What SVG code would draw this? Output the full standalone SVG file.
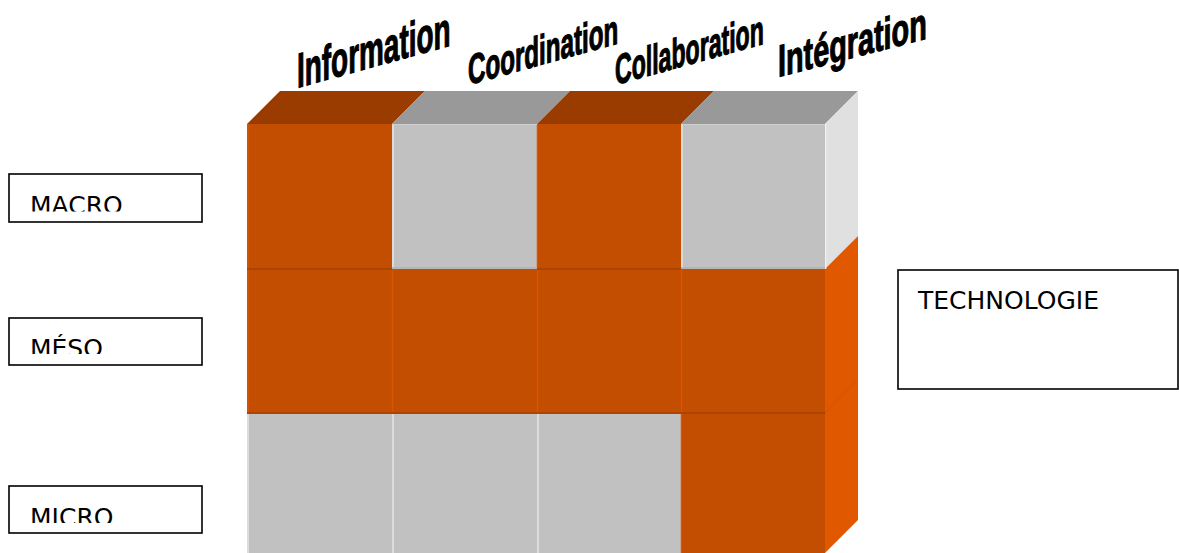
<svg xmlns="http://www.w3.org/2000/svg" width="1179" height="553" viewBox="0 0 1179 553">
<style>
.box{fill:#fff;stroke:#000;stroke-width:1.6}
.lbl{font-family:"DejaVu Sans","Verdana",sans-serif;font-size:25px;fill:#000}
.wa{font-family:"Liberation Sans",Arial,sans-serif;font-weight:bold;fill:#000;stroke:#000;stroke-width:1.2}
.of{fill:#C34D00}
.gf{fill:#C1C1C1}
.ot{fill:#9A3C00}
.gt{fill:#999999}
.os{fill:#E05800}
.gs{fill:#E0E0E0}
.lo{stroke:#D95600;stroke-width:1.5}
.ld{stroke:#AE4400;stroke-width:2}
.lg{stroke:#DCDCDC;stroke-width:2}
.lgd{stroke:#B0B0B0;stroke-width:1.5}
</style>
<defs>
<clipPath id="c1"><rect x="0" y="0" width="1179" height="211.5"/></clipPath>
<clipPath id="c2"><rect x="0" y="0" width="1179" height="354"/></clipPath>
<clipPath id="c3"><rect x="0" y="0" width="1179" height="523"/></clipPath>
</defs>
<rect width="1179" height="553" fill="#fff"/>

<g id="cube">
<!-- top faces -->
<polygon class="ot" points="247,124 280,91 425,91 392,124"/>
<polygon class="gt" points="392,124 425,91 570,91 537,124"/>
<polygon class="ot" points="537,124 570,91 714,91 681,124"/>
<polygon class="gt" points="681,124 714,91 858,91 825,124"/>
<!-- side faces -->
<polygon class="gs" points="825,124 858,91 858,236 825,269"/>
<polygon class="os" points="825,269 858,236 858,520 825,553"/>
<line x1="825" y1="413" x2="858" y2="380" stroke="#D35200" stroke-width="1"/>
<line x1="825.5" y1="124" x2="825.5" y2="269" stroke="#F0F0F0" stroke-width="1.5"/>
<!-- front faces row 1 -->
<rect class="of" x="247" y="124" width="145" height="145"/>
<rect class="gf" x="392" y="124" width="145" height="145"/>
<rect class="of" x="537" y="124" width="144" height="145"/>
<rect class="gf" x="681" y="124" width="144" height="145"/>
<!-- row 2 -->
<rect class="of" x="247" y="269" width="578" height="144"/>
<!-- row 3 -->
<rect class="gf" x="247" y="413" width="434" height="140"/>
<rect class="of" x="681" y="413" width="144" height="140"/>
<!-- edge lines -->
<line class="lo" x1="248" y1="124" x2="248" y2="413"/>
<line class="lg" x1="393" y1="124" x2="393" y2="268"/>
<line class="lg" x1="682" y1="124" x2="682" y2="268"/>
<line class="lo" x1="392.5" y1="270" x2="392.5" y2="412"/>
<line class="lo" x1="537.5" y1="124" x2="537.5" y2="412"/>
<line class="lo" x1="681.5" y1="270" x2="681.5" y2="553"/>
<line class="lg" x1="248" y1="414" x2="248" y2="553"/>
<line class="lg" x1="393" y1="414" x2="393" y2="553"/>
<line class="lg" x1="538" y1="414" x2="538" y2="553"/>
<line x1="392" y1="124.5" x2="537" y2="124.5" stroke="#D0D0D0" stroke-width="1"/>
<line x1="681" y1="124.5" x2="825" y2="124.5" stroke="#D0D0D0" stroke-width="1"/>
<line class="ld" x1="247" y1="269" x2="392" y2="269"/>
<line class="ld" x1="537" y1="269" x2="681" y2="269"/>
<line class="lgd" x1="392" y1="268" x2="537" y2="268"/>
<line class="lgd" x1="681" y1="268" x2="825" y2="268"/>
<line class="ld" x1="247" y1="413" x2="825" y2="413"/>
</g>

<g id="label-information"><text class="wa" font-size="49" transform="translate(297,88) skewY(-15.5) scale(0.57,1)">Information</text></g>
<g id="label-coordination"><text class="wa" font-size="42" transform="translate(468,85) skewY(-15.5) scale(0.575,1)">Coordination</text></g>
<g id="label-collaboration"><text class="wa" font-size="42" transform="translate(615,85) skewY(-15.5) scale(0.55,1)">Collaboration</text></g>
<g id="label-integration"><text class="wa" font-size="45" transform="translate(778,77) skewY(-14.5) scale(0.64,1)">Intégration</text></g>

<g id="node-macro">
<rect class="box" x="9" y="174" width="193" height="48"/>
<text class="lbl" x="30" y="214" clip-path="url(#c1)">MACRO</text>
</g>
<g id="node-meso">
<rect class="box" x="9" y="318" width="193" height="47"/>
<text class="lbl" x="30" y="357" clip-path="url(#c2)">MÉSO</text>
</g>
<g id="node-micro">
<rect class="box" x="9" y="486" width="193" height="47"/>
<text class="lbl" x="30" y="526" clip-path="url(#c3)">MICRO</text>
</g>
<g id="node-technologie">
<rect class="box" x="898" y="270" width="280" height="119"/>
<text class="lbl" x="918" y="309">TECHNOLOGIE</text>
</g>
<g id="connectors"/>
</svg>
